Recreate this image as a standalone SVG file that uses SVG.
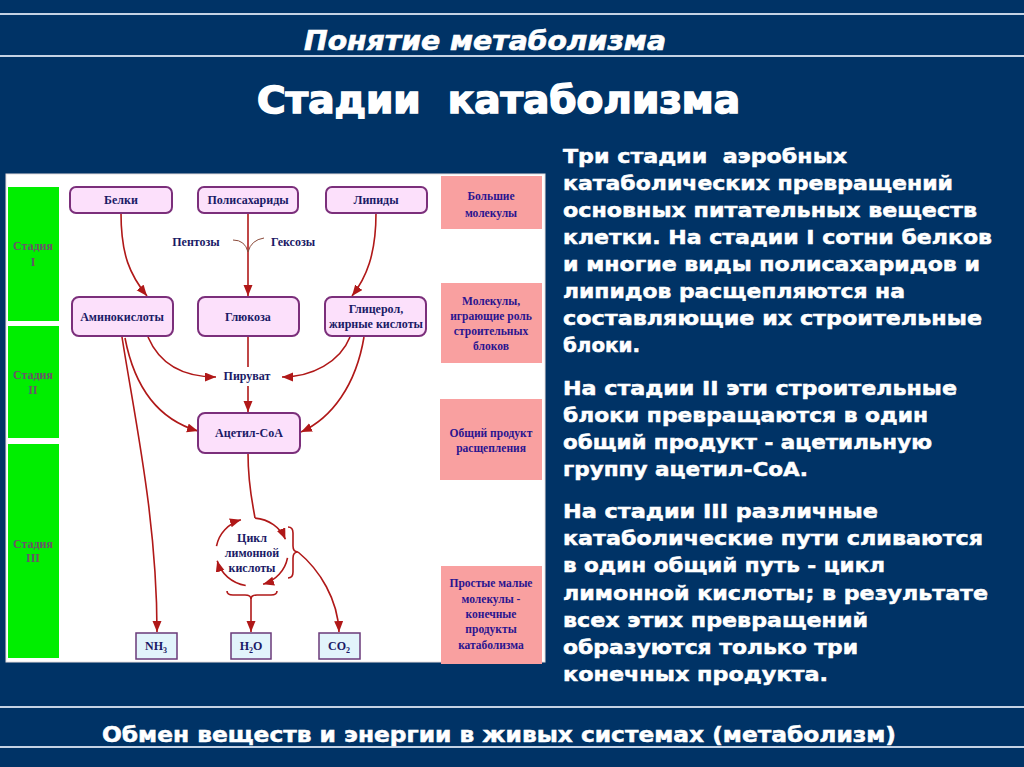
<svg xmlns="http://www.w3.org/2000/svg" width="1024" height="767" viewBox="0 0 1024 767">
<style>
.hl{stroke:#c4d2e4;stroke-width:2}
.para{font-family:"DejaVu Sans","Liberation Sans",sans-serif;font-weight:bold;font-size:19.5px;fill:#ffffff;stroke:#ffffff;stroke-width:0.5}
.node rect{fill:#fce0fb;stroke:#7b2f7b;stroke-width:2}
.nt{font-family:"Liberation Serif","Times New Roman",serif;font-weight:bold;font-size:12px;fill:#1a1a66;text-anchor:middle}
.pk{fill:#f9a0a0}
.pt{font-family:"Liberation Serif","Times New Roman",serif;font-weight:bold;font-size:11.5px;fill:#2a1590;text-anchor:middle}
.st{fill:#00ee00}
.stt{font-family:"Liberation Serif","Times New Roman",serif;font-weight:bold;font-size:12px;fill:#6b5468;text-anchor:middle}
.prod rect{fill:#e2f4fb;stroke:#6a3a7a;stroke-width:1.5}
.ar{fill:none;stroke:#b01818;stroke-width:1.6}
.ara{fill:none;stroke:#b01818;stroke-width:1.6;marker-end:url(#ah)}
.br{fill:none;stroke:#8b4a3a;stroke-width:1}
.ttl{font-family:"DejaVu Sans Condensed","DejaVu Sans","Liberation Sans",sans-serif;font-weight:bold;fill:#ffffff;stroke:#ffffff}
</style>
<defs>
<marker id="ah" markerUnits="userSpaceOnUse" markerWidth="12" markerHeight="10" refX="11" refY="4.5" orient="auto">
<path d="M0,0 L11,4.5 L0,9 z" fill="#b01818"/>
</marker>
</defs>
<rect x="0" y="0" width="1024" height="767" fill="#003366"/>
<line class="hl" x1="0" y1="14" x2="1024" y2="14"/>
<line class="hl" x1="0" y1="56" x2="1024" y2="56"/>
<line class="hl" x1="0" y1="707" x2="1024" y2="707"/>
<line class="hl" x1="0" y1="747" x2="1024" y2="747"/>
<text class="ttl" x="304" y="50" textLength="362" lengthAdjust="spacingAndGlyphs" font-style="italic" font-size="26" stroke-width="0.6">Понятие метаболизма</text>
<text class="ttl" x="257" y="113" xml:space="preserve" textLength="483" lengthAdjust="spacingAndGlyphs" font-size="37" stroke-width="1.4">Стадии  катаболизма</text>
<text class="ttl" x="102" y="742" textLength="794" lengthAdjust="spacingAndGlyphs" font-size="22" stroke-width="0.5">Обмен веществ и энергии в живых системах (метаболизм)</text>

<g id="paragraph">
<text class="para" x="563" y="163" xml:space="preserve" textLength="284" lengthAdjust="spacingAndGlyphs">Три стадии  аэробных</text>
<text class="para" x="563" y="190" textLength="390" lengthAdjust="spacingAndGlyphs">катаболических превращений</text>
<text class="para" x="563" y="217" textLength="414" lengthAdjust="spacingAndGlyphs">основных питательных веществ</text>
<text class="para" x="563" y="244" textLength="429" lengthAdjust="spacingAndGlyphs">клетки. На стадии I сотни белков</text>
<text class="para" x="563" y="271" textLength="417" lengthAdjust="spacingAndGlyphs">и многие виды полисахаридов и</text>
<text class="para" x="563" y="298" textLength="342" lengthAdjust="spacingAndGlyphs">липидов расщепляются на</text>
<text class="para" x="563" y="325" textLength="419" lengthAdjust="spacingAndGlyphs">составляющие их строительные</text>
<text class="para" x="563" y="352" textLength="77" lengthAdjust="spacingAndGlyphs">блоки.</text>
<text class="para" x="563" y="395" textLength="394" lengthAdjust="spacingAndGlyphs">На стадии II эти строительные</text>
<text class="para" x="563" y="422" textLength="365" lengthAdjust="spacingAndGlyphs">блоки превращаются в один</text>
<text class="para" x="563" y="449" textLength="369" lengthAdjust="spacingAndGlyphs">общий продукт - ацетильную</text>
<text class="para" x="563" y="476" textLength="245" lengthAdjust="spacingAndGlyphs">группу ацетил-СоА.</text>
<text class="para" x="563" y="518" textLength="315" lengthAdjust="spacingAndGlyphs">На стадии III различные</text>
<text class="para" x="563" y="545" textLength="420" lengthAdjust="spacingAndGlyphs">катаболические пути сливаются</text>
<text class="para" x="563" y="572" textLength="322" lengthAdjust="spacingAndGlyphs">в один общий путь - цикл</text>
<text class="para" x="563" y="600" textLength="425" lengthAdjust="spacingAndGlyphs">лимонной кислоты; в результате</text>
<text class="para" x="563" y="627" textLength="305" lengthAdjust="spacingAndGlyphs">всех этих превращений</text>
<text class="para" x="563" y="654" textLength="295" lengthAdjust="spacingAndGlyphs">образуются только три</text>
<text class="para" x="563" y="681" textLength="265" lengthAdjust="spacingAndGlyphs">конечных продукта.</text>
</g>

<rect x="6" y="174" width="539" height="488" fill="#ffffff" stroke="#e6dede" stroke-width="1"/>

<g id="stage1"><rect class="st" x="8" y="187" width="51" height="134"/><text class="stt" x="33" y="250">Стадия</text><text class="stt" x="33" y="266">I</text></g>
<g id="stage2"><rect class="st" x="8" y="326" width="51" height="112"/><text class="stt" x="33" y="379">Стадия</text><text class="stt" x="33" y="394">II</text></g>
<g id="stage3"><rect class="st" x="8" y="444" width="51" height="214"/><text class="stt" x="33" y="548">Стадия</text><text class="stt" x="33" y="562">III</text></g>

<g id="label-big"><rect class="pk" x="441" y="176" width="101" height="53"/><text class="pt" x="491" y="200">Большие</text><text class="pt" x="491" y="217">молекулы</text></g>
<g id="label-blocks"><rect class="pk" x="441" y="283" width="101" height="80"/><text class="pt" x="491" y="305">Молекулы,</text><text class="pt" x="491" y="320">играющие роль</text><text class="pt" x="491" y="335">строительных</text><text class="pt" x="491" y="350">блоков</text></g>
<g id="label-common"><rect class="pk" x="440" y="399" width="102" height="81"/><text class="pt" x="491" y="437">Общий продукт</text><text class="pt" x="491" y="452">расщепления</text></g>
<g id="label-final"><rect class="pk" x="441" y="566" width="101" height="98"/><text class="pt" x="491" y="587">Простые малые</text><text class="pt" x="491" y="603">молекулы -</text><text class="pt" x="491" y="618">конечные</text><text class="pt" x="491" y="633">продукты</text><text class="pt" x="491" y="649">катаболизма</text></g>

<g id="connectors">
<path class="ara" d="M121,213 C121,255 130,275 147,296"/>
<path class="ara" d="M248,213 L248,296"/>
<path class="ara" d="M376,213 C376,255 366,278 352,296"/>
<path class="ara" d="M148,337 C160,365 185,377 216,377"/>
<path class="ar" d="M248,336 L248,367"/>
<path class="ara" d="M248,386 L248,412"/>
<path class="ara" d="M350,337 C340,362 312,377 282,377"/>
<path class="ara" d="M125,338 C135,390 160,420 198,431"/>
<path class="ara" d="M364,337 C356,385 332,418 301,432"/>
<path class="ara" d="M122,337 C135,420 157,520 157,632"/>
<path class="ar" d="M248,453 C248,485 252,500 255,518"/>
<path class="ara" d="M216.5,546.1 A36,34 0 0 1 240.9,519.7"/>
<path class="ara" d="M255.1,518.1 A36,34 0 0 1 285.4,539.3"/>
<path class="ara" d="M287.5,557.9 A36,34 0 0 1 263.1,584.3"/>
<path class="ara" d="M245.7,585.5 A36,34 0 0 1 217.2,560.8"/>
<path class="ar" d="M288,527 Q293,527 293,533 L293,546 Q293,552 298,552 Q293,552 293,558 L293,572 Q293,578 288,578"/>
<path class="ar" d="M227,591 Q227,595 233,595 L245,595 Q251,595 251,599 Q251,595 257,595 L271,595 Q277,595 277,591"/>
<path class="ara" d="M251,598 L251,632"/>
<path class="ara" d="M298,552 C320,570 338,600 339,632"/>
<path class="br" d="M233,240 Q245,240 248,252"/>
<path class="br" d="M264,238 Q251,240 248,252"/>
</g>

<g id="belki" class="node"><rect x="70" y="187" width="102" height="26" rx="6"/><text class="nt" x="121" y="204">Белки</text></g>
<g id="polisaharidy" class="node"><rect x="198" y="187" width="100" height="26" rx="6"/><text class="nt" x="248" y="204">Полисахариды</text></g>
<g id="lipidy" class="node"><rect x="326" y="187" width="101" height="26" rx="6"/><text class="nt" x="376" y="204">Липиды</text></g>
<g id="aminokisloty" class="node"><rect x="72" y="297" width="101" height="39" rx="7"/><text class="nt" x="122" y="321">Аминокислоты</text></g>
<g id="glukoza" class="node"><rect x="198" y="297" width="101" height="39" rx="7"/><text class="nt" x="248" y="321">Глюкоза</text></g>
<g id="glicerol" class="node"><rect x="325" y="297" width="101" height="39" rx="7"/><text class="nt" x="376" y="313" font-weight="normal">Глицерол,</text><text class="nt" x="376" y="328" font-weight="normal">жирные кислоты</text></g>
<g id="piruvat"><text class="nt" x="247" y="380">Пируват</text></g>
<g id="pentozy"><text class="nt" x="196" y="246">Пентозы</text></g>
<g id="geksozy"><text class="nt" x="293" y="246">Гексозы</text></g>
<g id="acetil" class="node"><rect x="198" y="413" width="102" height="40" rx="7"/><text class="nt" x="249" y="437">Ацетил-СоА</text></g>
<g id="cycle"><text class="nt" x="252" y="542">Цикл</text><text class="nt" x="252" y="557">лимонной</text><text class="nt" x="252" y="572">кислоты</text></g>
<g id="nh3" class="prod"><rect x="136" y="633" width="41" height="26"/><text class="nt" x="156" y="650">NH<tspan font-size="8" dy="3">3</tspan></text></g>
<g id="h2o" class="prod"><rect x="231" y="633" width="40" height="26"/><text class="nt" x="251" y="650">H<tspan font-size="8" dy="3">2</tspan><tspan dy="-3">O</tspan></text></g>
<g id="co2" class="prod"><rect x="319" y="633" width="41" height="26"/><text class="nt" x="339" y="650">CO<tspan font-size="8" dy="3">2</tspan></text></g>
</svg>
